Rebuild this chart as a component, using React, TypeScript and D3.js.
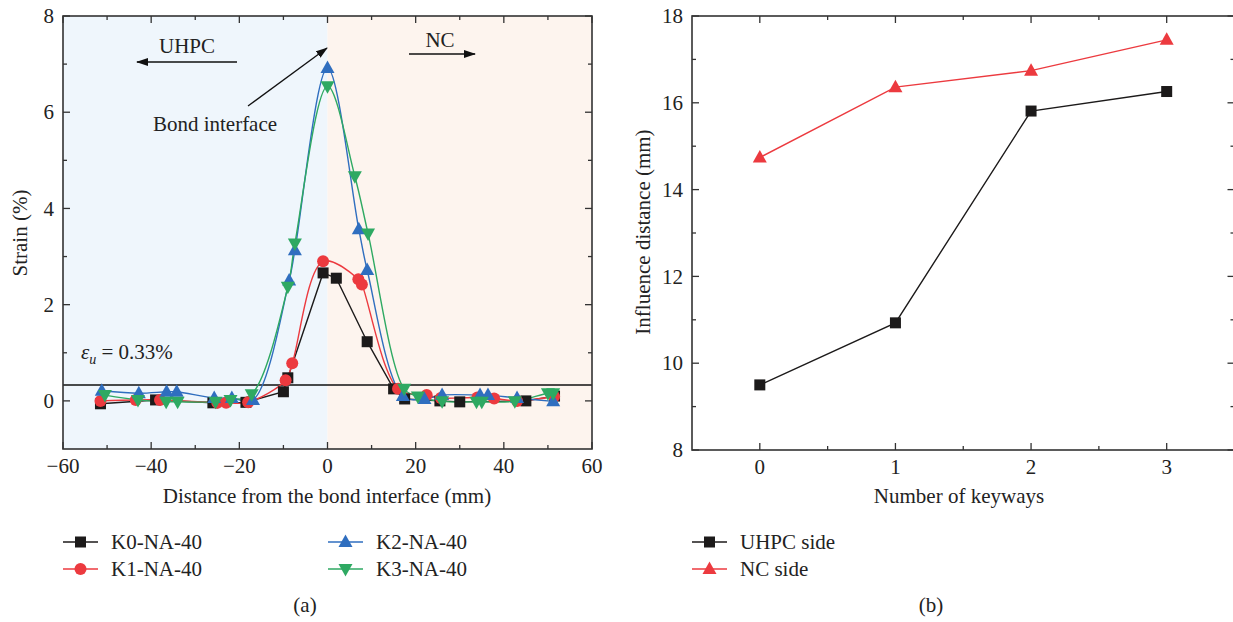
import React from "react";
import * as d3 from "d3";

type Pt = [number, number];

const K0: Pt[] = [[-51.5,-0.06],[-39,0.02],[-26,-0.04],[-18.5,-0.03],[-10,0.19],[-9,0.48],[-1,2.66],[2,2.55],[9,1.23],[15,0.25],[17.5,0.04],[25.5,0.0],[30,-0.02],[45,0.0],[51.5,0.1]];
const K1: Pt[] = [[-51.5,0],[-43.5,0.02],[-38,0.02],[-25,-0.04],[-23,-0.04],[-18,-0.03],[-9.5,0.43],[-8,0.78],[-1,2.9],[7,2.53],[7.8,2.42],[16,0.25],[22.5,0.12],[25.7,0.06],[34,0.07],[37.8,0.05],[43,0.0],[51.4,0.09]];
const K2: Pt[] = [[-51.2,0.21],[-42.8,0.16],[-36.5,0.19],[-34.2,0.19],[-25.7,0.06],[-21.7,0.06],[-16.9,0.02],[-8.7,2.5],[-7.4,3.13],[0,6.92],[7.1,3.57],[9,2.72],[17.1,0.1],[22,0.04],[26,0.12],[34.6,0.12],[36.4,0.12],[43,0.06],[51.2,-0.01]];
const K3: Pt[] = [[-50.5,0.12],[-43,0.02],[-36.6,-0.02],[-34,-0.02],[-25.4,-0.02],[-22,0.02],[-17.2,0.14],[-9,2.37],[-7.4,3.27],[0,6.54],[6.2,4.67],[9.2,3.48],[17.4,0.25],[20.5,0.09],[26,-0.01],[33.8,-0.02],[35,-0.02],[42.5,-0.01],[50,0.16],[51.2,0.16]];

const keyways = [0, 1, 2, 3];
const uhpcSide = [9.5, 10.93, 15.81, 16.26];
const ncSide = [14.74, 16.36, 16.74, 17.45];

const xTicksA = [-60, -40, -20, 0, 20, 40, 60];
const xMinorA = [-50, -30, -10, 10, 30, 50];
const yTicksA = [0, 2, 4, 6, 8];
const yMinorA = [1, 3, 5, 7];
const xTicksB = [0, 1, 2, 3];
const xMinorB = [0.5, 1.5, 2.5];
const yTicksB = [8, 10, 12, 14, 16, 18];
const yMinorB = [9, 11, 13, 15, 17];
const threshold = 0.33;

const FONT = "'Liberation Serif', 'Times New Roman', serif";
const FS = 21;
const AX = "#333";
const C_BLACK = "#1c1a1a";
const C_RED = "#ec3a3f";
const C_BLUE = "#2f6ebf";
const C_GREEN = "#2ea962";

function Marker({ type, x, y, color }: { type: string; x: number; y: number; color: string }) {
  if (type === "square") return <rect x={x - 5.5} y={y - 5.5} width={11} height={11} fill={color} />;
  if (type === "circle") return <circle cx={x} cy={y} r={6} fill={color} />;
  if (type === "up") return <path d={`M${x},${y - 7.5}L${x + 7},${y + 5}L${x - 7},${y + 5}Z`} fill={color} />;
  return <path d={`M${x},${y + 7.5}L${x + 7},${y - 5}L${x - 7},${y - 5}Z`} fill={color} />;
}

function Frame({ x0, x1, y0, y1, xs, ys, xMaj, xMin, yMaj, yMin, xfmt, yfmt }: any) {
  const M = 7, m = 4;
  return (
    <g>
      {xMaj.map((t: number) => (
        <g key={"xM" + t}>
          <line x1={xs(t)} x2={xs(t)} y1={y1} y2={y1 - M} stroke={AX} strokeWidth={1.3} />
          <line x1={xs(t)} x2={xs(t)} y1={y0} y2={y0 + M} stroke={AX} strokeWidth={1.3} />
          <text x={xs(t)} y={y1 + 24} textAnchor="middle" fontSize={FS} fill="#222">{xfmt(t)}</text>
        </g>
      ))}
      {xMin.map((t: number) => (
        <g key={"xm" + t}>
          <line x1={xs(t)} x2={xs(t)} y1={y1} y2={y1 - m} stroke={AX} strokeWidth={1.3} />
          <line x1={xs(t)} x2={xs(t)} y1={y0} y2={y0 + m} stroke={AX} strokeWidth={1.3} />
        </g>
      ))}
      {yMaj.map((t: number) => (
        <g key={"yM" + t}>
          <line x1={x0} x2={x0 + M} y1={ys(t)} y2={ys(t)} stroke={AX} strokeWidth={1.3} />
          <line x1={x1} x2={x1 - M} y1={ys(t)} y2={ys(t)} stroke={AX} strokeWidth={1.3} />
          <text x={x0 - 9} y={ys(t)} dy="0.34em" textAnchor="end" fontSize={FS} fill="#222">{yfmt(t)}</text>
        </g>
      ))}
      {yMin.map((t: number) => (
        <g key={"ym" + t}>
          <line x1={x0} x2={x0 + m} y1={ys(t)} y2={ys(t)} stroke={AX} strokeWidth={1.3} />
          <line x1={x1} x2={x1 - m} y1={ys(t)} y2={ys(t)} stroke={AX} strokeWidth={1.3} />
        </g>
      ))}
      <rect x={x0} y={y0} width={x1 - x0} height={y1 - y0} fill="none" stroke={AX} strokeWidth={1.6} />
    </g>
  );
}

export default function App() {
  const W = 1233, H = 622;
  // Panel (a)
  const ax0 = 63, ax1 = 592, ay0 = 16, ay1 = 449;
  const xa = d3.scaleLinear().domain([-60, 60]).range([ax0, ax1]);
  const ya = d3.scaleLinear().domain([-1, 8]).range([ay1, ay0]);
  const lineLin = d3.line<Pt>().x(d => xa(d[0])).y(d => ya(d[1]));
  const lineSm = d3.line<Pt>().x(d => xa(d[0])).y(d => ya(d[1])).curve(d3.curveCatmullRom.alpha(0.5));
  const fmt = (t: number) => (t < 0 ? "\u2212" + Math.abs(t) : String(t));

  const seriesA = [
    { name: "K0-NA-40", data: K0, color: C_BLACK, m: "square", smooth: false },
    { name: "K1-NA-40", data: K1, color: C_RED, m: "circle", smooth: true },
    { name: "K2-NA-40", data: K2, color: C_BLUE, m: "up", smooth: true },
    { name: "K3-NA-40", data: K3, color: C_GREEN, m: "down", smooth: true },
  ];

  // Panel (b)
  const bx0 = 692, bx1 = 1234.5, by0 = 16, by1 = 450;
  const xb = d3.scaleLinear().domain([-0.5, 3.5]).range([bx0, bx1]);
  const yb = d3.scaleLinear().domain([8, 18]).range([by1, by0]);
  const lineB = d3.line<number>().x((_, i) => xb(keyways[i])).y(d => yb(d));
  const seriesB = [
    { name: "UHPC side", data: uhpcSide, color: C_BLACK, m: "square" },
    { name: "NC side", data: ncSide, color: C_RED, m: "up" },
  ];

  const legA = [
    { s: seriesA[0], x: 63, y: 542 },
    { s: seriesA[1], x: 63, y: 569 },
    { s: seriesA[2], x: 328, y: 542 },
    { s: seriesA[3], x: 328, y: 569 },
  ];

  return (
    <svg width={W} height={H} style={{ display: "block", position: "absolute", left: 0, top: 0 }} fontFamily={FONT}>
      <defs>
        <marker id="ah" viewBox="0 0 12 8" refX="11" refY="4" markerWidth="12" markerHeight="8" markerUnits="userSpaceOnUse" orient="auto">
          <path d="M0,0L12,4L0,8Z" fill="#111" />
        </marker>
        <clipPath id="clipA"><rect x={ax0} y={ay0} width={ax1 - ax0} height={ay1 - ay0} /></clipPath>
      </defs>
      <rect width={W} height={H} fill="#fff" />
      {/* Panel a backgrounds */}
      <rect x={ax0} y={ay0} width={xa(0) - ax0} height={ay1 - ay0} fill="#eff6fc" />
      <rect x={xa(0)} y={ay0} width={ax1 - xa(0)} height={ay1 - ay0} fill="#fdf4ee" />
      <line x1={ax0} x2={ax1} y1={ya(threshold)} y2={ya(threshold)} stroke="#111" strokeWidth={1.5} />
      <g clipPath="url(#clipA)">
        {seriesA.map(s => (
          <path key={s.name} d={(s.smooth ? lineSm : lineLin)(s.data) || ""} fill="none" stroke={s.color} strokeWidth={1.4} />
        ))}
        {seriesA.map(s => (
          <g key={s.name + "m"}>
            {s.data.map((d, i) => <Marker key={i} type={s.m} x={xa(d[0])} y={ya(d[1])} color={s.color} />)}
          </g>
        ))}
      </g>
      <Frame x0={ax0} x1={ax1} y0={ay0} y1={ay1} xs={xa} ys={ya} xMaj={xTicksA} xMin={xMinorA} yMaj={yTicksA} yMin={yMinorA} xfmt={fmt} yfmt={fmt} />
      {/* annotations */}
      <text x={187} y={53} textAnchor="middle" fontSize={FS} fill="#222">UHPC</text>
      <line x1={237} x2={137} y1={62} y2={62} stroke="#111" strokeWidth={1.3} markerEnd="url(#ah)" />
      <text x={440} y={47} textAnchor="middle" fontSize={FS} fill="#222">NC</text>
      <line x1={409} x2={475} y1={54} y2={54} stroke="#111" strokeWidth={1.3} markerEnd="url(#ah)" />
      <text x={215} y={131} textAnchor="middle" fontSize={FS} fill="#222">Bond interface</text>
      <line x1={248} x2={327} y1={106} y2={48} stroke="#111" strokeWidth={1.3} markerEnd="url(#ah)" />
      <text x={81} y={359} fontSize={FS} fill="#222">
        <tspan fontStyle="italic">ε</tspan>
        <tspan fontStyle="italic" fontSize={14} dy={5}>u</tspan>
        <tspan dy={-5}> = 0.33%</tspan>
      </text>
      <text transform={`translate(27,233) rotate(-90)`} textAnchor="middle" fontSize={FS} fill="#222">Strain (%)</text>
      <text x={327} y={503} textAnchor="middle" fontSize={FS} fill="#222">Distance from the bond interface (mm)</text>
      {legA.map(({ s, x, y }) => (
        <g key={"lg" + s.name}>
          <line x1={x} x2={x + 35} y1={y} y2={y} stroke={s.color} strokeWidth={1.4} />
          <Marker type={s.m} x={x + 17.5} y={y} color={s.color} />
          <text x={x + 48} y={y} dy="0.34em" fontSize={FS} fill="#222">{s.name}</text>
        </g>
      ))}
      <text x={305} y={612} textAnchor="middle" fontSize={FS} fill="#222">(a)</text>

      {/* Panel b */}
      {seriesB.map(s => (
        <g key={s.name}>
          <path d={lineB(s.data) || ""} fill="none" stroke={s.color} strokeWidth={1.4} />
          {s.data.map((d, i) => <Marker key={i} type={s.m} x={xb(keyways[i])} y={yb(d)} color={s.color} />)}
        </g>
      ))}
      <Frame x0={bx0} x1={bx1} y0={by0} y1={by1} xs={xb} ys={yb} xMaj={xTicksB} xMin={xMinorB} yMaj={yTicksB} yMin={yMinorB} xfmt={String} yfmt={String} />
      <text transform={`translate(650,232) rotate(-90)`} textAnchor="middle" fontSize={FS} fill="#222">Influence distance (mm)</text>
      <text x={959} y={503} textAnchor="middle" fontSize={FS} fill="#222">Number of keyways</text>
      {seriesB.map((s, i) => (
        <g key={"lb" + s.name}>
          <line x1={692} x2={727} y1={542 + i * 27} y2={542 + i * 27} stroke={s.color} strokeWidth={1.4} />
          <Marker type={s.m} x={709.5} y={542 + i * 27} color={s.color} />
          <text x={740} y={542 + i * 27} dy="0.34em" fontSize={FS} fill="#222">{s.name}</text>
        </g>
      ))}
      <text x={931} y={612} textAnchor="middle" fontSize={FS} fill="#222">(b)</text>
    </svg>
  );
}
